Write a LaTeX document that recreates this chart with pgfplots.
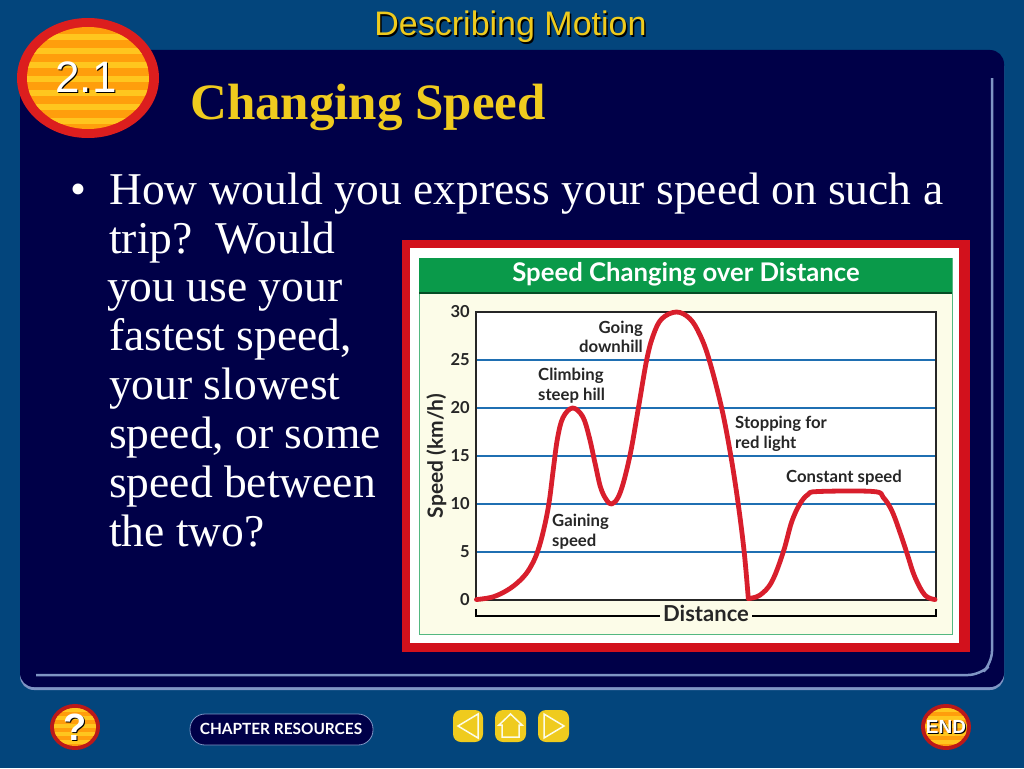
\documentclass[border=0pt]{standalone}
\usepackage{fontspec}
\usepackage{pgfplots}
\pgfplotsset{compat=1.18}
\setmainfont{Liberation Serif}
\newfontfamily\arial{Liberation Sans}
\newfontfamily\chartfont{Lato}
\definecolor{bgblue}{HTML}{03457C}
\definecolor{navy}{HTML}{000048}
\definecolor{edge}{HTML}{7F95C4}
\definecolor{gold}{HTML}{EFCB1E}
\definecolor{framered}{HTML}{D2111C}
\definecolor{cream}{HTML}{FCFCE8}
\definecolor{headgreen}{HTML}{0A9A4A}
\definecolor{gridblue}{HTML}{1F6FB2}
\definecolor{curvered}{HTML}{D81E2C}
\definecolor{badgered}{HTML}{DC1E1E}
\definecolor{orangeA}{HTML}{FF9E0C}
\definecolor{orangeB}{HTML}{FFC61E}
\newcommand\fs[1]{\fontsize{#1}{#1}\selectfont}

% speed against distance
% two parts: the curve has a sharp corner at the red light
\pgfplotstableread{
d s
0.1 0.05
3.8 0.34
7.4 1.2
10.3 2.4
12.1 3.65
13.5 5.2
14.8 7.5
15.9 10.2
16.8 13.6
17.7 16.8
18.9 19
21 20
23.2 19.1
24.6 17
25.9 14.2
27.1 11.7
28.4 10.4
29.5 10
30.9 10.7
32.2 12.5
33.7 15.6
35.3 20
37.1 25
38.55 27.6
40.4 29.3
43.6 30
46.5 29.3
48.7 27.6
50.7 25
53.4 20
55.4 15
57 10
58.3 5
59.2 0.15
}\speedup
\pgfplotstableread{
d s
59.2 0.15
61.7 0.5
64.3 1.9
66.8 5
68.6 8.1
70.4 10
72.2 11
74.4 11.3
86.4 11.3
88.5 10.7
90.4 9.3
92.2 7
93.8 4.7
95.4 2.4
97.6 0.5
99.8 0.05
}\speedrest

\begin{document}
\begin{tikzpicture}[x=1pt,y=-1pt]
\path[use as bounding box,fill=bgblue] (0,0) rectangle (1024,768);
% slide panel
\fill[rounded corners=14pt,edge] (20,52) rectangle (1004,690);
\fill[rounded corners=14pt,navy] (20,50) rectangle (1004,687);
\draw[edge,line width=2.5pt,rounded corners=12pt] (36,675) -- (980,675) -- (992,663) -- (992,78);
% badge
\fill[badgered] (88,78) ellipse [x radius=71,y radius=60];
\begin{scope}
\clip (88,78) ellipse [x radius=61,y radius=51];
\fill[orangeA] (20,20) rectangle (160,140);
\foreach \yy in {34,48,62,76,90,104,118}
  \fill[orangeB] (20,\yy) rectangle (160,\yy+6);
\end{scope}
\node[black,font=\arial\fs{44}] at (87.5,78.5) {2.1};
\node[white,font=\arial\fs{44}] at (86,77) {2.1};
% headings
\node[black,font=\arial\fs{34}] at (512,29) {Describing Motion};
\node[gold,font=\arial\fs{34}] at (510.5,27) {Describing Motion};
\node[gold,anchor=base west,inner sep=0pt,font=\bfseries\fs{51}] at (190,119) {Changing Speed};
% body text
\begin{scope}[every node/.style={white,anchor=base west,inner sep=0pt,font=\fs{45.5}}]
\node at (70,204) {•};
\node at (109,204) {How would you express your speed on such a};
\node at (109,253) {trip?\ \ Would};
\node at (107,301) {you use your};
\node at (109,350) {fastest speed,};
\node at (109,399) {your slowest};
\node at (109,448) {speed, or some};
\node at (109,497) {speed between};
\node at (109,546) {the two?};
\end{scope}
% chart frame
\fill[framered] (402,240) rectangle (970,652);
\fill[white] (410,248) rectangle (959,643);
\fill[cream,draw=headgreen!70,line width=1pt] (419,258) rectangle (952,634);
\fill[headgreen] (419,258) rectangle (952,293);
\draw[headgreen!50!black,line width=1.5pt] (419,293) -- (952,293);
\node[white,font=\chartfont\bfseries\fs{25.7}] at (686,274) {Speed Changing over Distance};
% distance bracket
\draw[black,line width=1.3pt] (476,609) -- (476,616) -- (936,616) -- (936,609);
\begin{axis}[
  at={(476pt,-600pt)},anchor=south west,
  scale only axis,width=460pt,height=288pt,
  xmin=0,xmax=100,ymin=0,ymax=30,
  xtick=\empty,ytick={0,5,...,30},
  clip=false,
  axis background/.style={fill=white},
  ymajorgrids,
  major grid style={gridblue,line width=2pt},
  axis line style={black!85,line width=1.4pt},
  major tick length=0pt,
  tick label style={font=\chartfont\bfseries\fs{16.5},black!85},
  /pgf/number format/assume math mode=true,
  yticklabel style={inner sep=1pt,xshift=-5pt},
  ylabel={Speed (km/h)},
  ylabel style={font=\chartfont\bfseries\fs{21},black!85,at={(axis description cs:-0.086,0.5)},anchor=center},
  xlabel={Distance},
  xlabel style={font=\chartfont\bfseries\fs{22},black!85,fill=cream,inner ysep=0pt,inner xsep=3pt,at={(axis description cs:0.5,-0.045)},anchor=center},
]
\addplot[curvered,line width=4.8pt,smooth,tension=0.6,line join=round,line cap=round] table[x=d,y=s] {\speedup};
\addplot[curvered,line width=4.8pt,smooth,tension=0.6,line join=round,line cap=round] table[x=d,y=s] {\speedrest};
\end{axis}
% annotations
\begin{scope}[every node/.style={black!85,align=left,inner sep=0pt,font=\chartfont\bfseries\fs{16.7}}]
\node[align=right,anchor=east] at (643,337) {Going\\[3pt]downhill};
\node[anchor=west] at (538,386) {Climbing\\[3pt]steep hill};
\node[anchor=west] at (735,434) {Stopping for\\[3pt]red light};
\node at (844,478) {Constant speed};
\node[anchor=west] at (552,532) {Gaining\\[3pt]speed};
\end{scope}
% bottom buttons
\foreach \cx/\lab/\sz in {75/?/38,946/END/19}{
  \fill[badgered!85!black] (\cx,727) ellipse [x radius=25,y radius=23];
  \begin{scope}
  \clip (\cx,727) ellipse [x radius=21,y radius=19];
  \fill[orangeA] (\cx-25,705) rectangle (\cx+25,750);
  \foreach \yy in {708,716,724,732,740}
    \fill[orangeB] (\cx-25,\yy) rectangle (\cx+25,\yy+4);
  \end{scope}
  \node[black,font=\arial\bfseries\fs{\sz}] at (\cx+1,728) {\lab};
  \node[white,font=\arial\bfseries\fs{\sz}] at (\cx,727) {\lab};
}
\fill[navy,draw=edge,line width=0.8pt,rounded corners=15pt] (190,714) rectangle (373,745);
\node[white,font=\chartfont\bfseries\fs{15.4}] at (281,729) {CHAPTER RESOURCES};
\foreach \xa/\xb in {453/483,495/526,538/569}
  \fill[gold,rounded corners=8pt] (\xa,710) rectangle (\xb,742);
\draw[cream,line width=1.5pt] (478,714) -- (458,726) -- (478,738) -- cycle;
\draw[cream,line width=1.5pt] (510.5,714) -- (522,725) -- (519,725) -- (519,737) -- (502,737) -- (502,725) -- (499,725) -- cycle;
\draw[cream,line width=1.5pt] (544,714) -- (564,726) -- (544,738) -- cycle;
\end{tikzpicture}
\end{document}
